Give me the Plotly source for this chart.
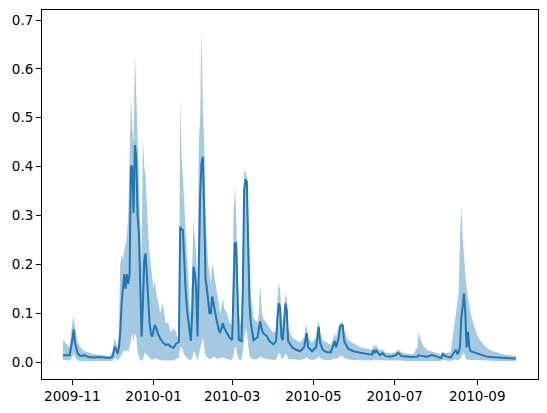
"""Daily series with uncertainty band, matplotlib-like look."""
import plotly.graph_objects as go

BLUE = "#1f77b4"
BAND = "rgba(31,119,180,0.4)"

dates = [
    "2009-10-25", "2009-10-28", "2009-10-30", "2009-11-01", "2009-11-02", "2009-11-03",
    "2009-11-05", "2009-11-07", "2009-11-10", "2009-11-13", "2009-11-17", "2009-11-21",
    "2009-11-25", "2009-11-29", "2009-12-01", "2009-12-02", "2009-12-03", "2009-12-04",
    "2009-12-05", "2009-12-06", "2009-12-07", "2009-12-08", "2009-12-09", "2009-12-10",
    "2009-12-11", "2009-12-12", "2009-12-13", "2009-12-14", "2009-12-15", "2009-12-16",
    "2009-12-17", "2009-12-18", "2009-12-19", "2009-12-20", "2009-12-21", "2009-12-22",
    "2009-12-23", "2009-12-24", "2009-12-25", "2009-12-26", "2009-12-27", "2009-12-28",
    "2009-12-29", "2009-12-30", "2009-12-31", "2010-01-01", "2010-01-02", "2010-01-03",
    "2010-01-04", "2010-01-06", "2010-01-08", "2010-01-10", "2010-01-12", "2010-01-14",
    "2010-01-16", "2010-01-18", "2010-01-19", "2010-01-20", "2010-01-21", "2010-01-22",
    "2010-01-23", "2010-01-24", "2010-01-25", "2010-01-26", "2010-01-27", "2010-01-28",
    "2010-01-29", "2010-01-30", "2010-01-31", "2010-02-01", "2010-02-02", "2010-02-03",
    "2010-02-04", "2010-02-05", "2010-02-06", "2010-02-07", "2010-02-08", "2010-02-09",
    "2010-02-10", "2010-02-11", "2010-02-12", "2010-02-13", "2010-02-14", "2010-02-15",
    "2010-02-16", "2010-02-17", "2010-02-19", "2010-02-20", "2010-02-22", "2010-02-23",
    "2010-02-25", "2010-02-27", "2010-03-01", "2010-03-02", "2010-03-03", "2010-03-04",
    "2010-03-05", "2010-03-06", "2010-03-08", "2010-03-09", "2010-03-10", "2010-03-11",
    "2010-03-12", "2010-03-13", "2010-03-14", "2010-03-15", "2010-03-17", "2010-03-20",
    "2010-03-21", "2010-03-22", "2010-03-23", "2010-03-24", "2010-03-27", "2010-03-29",
    "2010-04-01", "2010-04-03", "2010-04-04", "2010-04-05", "2010-04-06", "2010-04-07",
    "2010-04-08", "2010-04-09", "2010-04-10", "2010-04-11", "2010-04-12", "2010-04-15",
    "2010-04-18", "2010-04-21", "2010-04-24", "2010-04-25", "2010-04-26", "2010-04-27",
    "2010-04-30", "2010-05-03", "2010-05-04", "2010-05-05", "2010-05-06", "2010-05-08",
    "2010-05-11", "2010-05-14", "2010-05-16", "2010-05-17", "2010-05-18", "2010-05-20",
    "2010-05-21", "2010-05-22", "2010-05-23", "2010-05-24", "2010-05-27", "2010-05-31",
    "2010-06-05", "2010-06-10", "2010-06-14", "2010-06-15", "2010-06-16", "2010-06-17",
    "2010-06-18", "2010-06-20", "2010-06-22", "2010-06-24", "2010-06-28", "2010-07-02",
    "2010-07-03", "2010-07-04", "2010-07-06", "2010-07-10", "2010-07-15", "2010-07-18",
    "2010-07-19", "2010-07-20", "2010-07-22", "2010-07-25", "2010-07-29", "2010-08-02",
    "2010-08-05", "2010-08-06", "2010-08-08", "2010-08-12", "2010-08-14", "2010-08-15",
    "2010-08-16", "2010-08-17", "2010-08-18", "2010-08-19", "2010-08-20", "2010-08-21",
    "2010-08-22", "2010-08-23", "2010-08-24", "2010-08-25", "2010-08-26", "2010-08-27",
    "2010-08-29", "2010-09-01", "2010-09-03", "2010-09-07", "2010-09-10", "2010-09-15",
    "2010-09-20", "2010-09-25", "2010-09-30",
]

mean = [
    .014, .014, .014, .045, .067, .040,
    .018, .012, .014, .010, .009, .010,
    .009, .008, .010, .020, .031, .025,
    .017, .030, .060, .120, .147, .180,
    .150, .180, .160, .180, .400, .400,
    .305, .444, .420, .300, .263, .150,
    .052, .120, .209, .222, .170, .120,
    .080, .058, .052, .065, .076, .070,
    .060, .048, .040, .035, .036, .031,
    .029, .038, .040, .041, .277, .270,
    .270, .200, .150, .110, .090, .060,
    .043, .100, .195, .180, .150, .052,
    .200, .345, .407, .420, .310, .170,
    .150, .120, .100, .100, .134, .120,
    .100, .090, .065, .060, .079, .070,
    .060, .050, .045, .150, .243, .243,
    .120, .045, .043, .150, .352, .374,
    .370, .230, .120, .080, .045, .050,
    .070, .083, .070, .060, .053, .043,
    .036, .043, .090, .120, .112, .050,
    .045, .080, .120, .105, .043, .030,
    .025, .022, .030, .045, .059, .030,
    .022, .030, .055, .072, .040, .025,
    .020, .020, .035, .043, .030, .050,
    .072, .075, .075, .043, .027, .022,
    .019, .017, .015, .024, .018, .025,
    .020, .014, .018, .012, .011, .014,
    .018, .018, .012, .011, .010, .011,
    .014, .013, .012, .011, .014, .011,
    .008, .016, .012, .009, .018, .021,
    .025, .016, .020, .031, .090, .113,
    .140, .100, .030, .062, .030, .022,
    .020, .017, .016, .012, .010, .009,
    .008, .008, .007,
]

lower = [
    .004, .004, .003, .010, .020, .010,
    .003, .002, .002, .002, .002, .002,
    .001, .001, .002, .005, .008, .006,
    .004, .006, .010, .015, .020, .025,
    .020, .025, .020, .030, .050, .060,
    .040, .060, .050, .020, .010, .004,
    .002, .006, .015, .020, .015, .010,
    .008, .006, .004, .006, .008, .006,
    .005, .004, .003, .003, .004, .003,
    .003, .006, .008, .008, .030, .030,
    .025, .015, .010, .008, .006, .004,
    .003, .008, .020, .020, .012, .003,
    .015, .030, .040, .050, .030, .012,
    .010, .008, .006, .006, .010, .012,
    .010, .008, .006, .008, .010, .008,
    .006, .005, .004, .015, .030, .030,
    .012, .005, .004, .020, .050, .070,
    .060, .030, .012, .008, .005, .006,
    .008, .012, .010, .008, .006, .005,
    .004, .005, .012, .018, .018, .007,
    .006, .010, .018, .014, .006, .005,
    .005, .004, .006, .008, .010, .006,
    .004, .006, .010, .012, .008, .005,
    .004, .004, .006, .008, .006, .010,
    .012, .012, .012, .008, .005, .004,
    .004, .003, .003, .005, .004, .005,
    .004, .003, .004, .003, .003, .003,
    .004, .004, .003, .002, .002, .002,
    .003, .003, .003, .002, .003, .002,
    .002, .004, .003, .002, .004, .004,
    .005, .003, .004, .006, .010, .015,
    .020, .010, .003, .005, .004, .004,
    .004, .004, .004, .003, .003, .002,
    .002, .002, .002,
]

upper = [
    .045, .035, .030, .080, .093, .070,
    .040, .030, .022, .020, .016, .015,
    .014, .012, .020, .040, .048, .040,
    .030, .060, .200, .220, .210, .230,
    .240, .260, .300, .420, .543, .480,
    .450, .632, .550, .450, .400, .300,
    .200, .461, .400, .380, .300, .260,
    .220, .200, .170, .150, .170, .140,
    .130, .100, .120, .080, .080, .060,
    .070, .060, .050, .060, .543, .420,
    .380, .320, .290, .220, .180, .120,
    .100, .200, .290, .250, .220, .150,
    .450, .500, .686, .520, .450, .300,
    .250, .200, .180, .160, .200, .190,
    .170, .150, .110, .100, .130, .110,
    .100, .080, .075, .300, .359, .300,
    .200, .100, .070, .250, .390, .390,
    .380, .300, .200, .140, .090, .080,
    .100, .160, .110, .090, .080, .070,
    .060, .065, .130, .161, .150, .090,
    .070, .110, .140, .130, .070, .050,
    .045, .040, .050, .070, .075, .050,
    .040, .050, .075, .085, .060, .045,
    .040, .035, .050, .060, .050, .075,
    .080, .082, .080, .065, .045, .038,
    .030, .027, .025, .035, .030, .036,
    .030, .024, .026, .020, .018, .020,
    .025, .025, .020, .017, .016, .030,
    .062, .050, .035, .025, .022, .018,
    .015, .022, .018, .020, .060, .086,
    .100, .120, .140, .250, .320, .260,
    .210, .180, .150, .134, .120, .100,
    .079, .055, .045, .032, .025, .020,
    .016, .014, .013,
]

x_ticks = ["2009-11-01", "2010-01-01", "2010-03-01", "2010-05-01", "2010-07-01", "2010-09-01"]
x_ticktext = ["2009-11", "2010-01", "2010-03", "2010-05", "2010-07", "2010-09"]
y_ticks = [0.0, 0.1, 0.2, 0.3, 0.4, 0.5, 0.6, 0.7]

fig = go.Figure()
fig.add_scatter(x=dates, y=upper, mode="lines", line=dict(width=0, color=BLUE),
                showlegend=False, hoverinfo="skip")
fig.add_scatter(x=dates, y=lower, mode="lines", line=dict(width=0, color=BLUE),
                fill="tonexty", fillcolor=BAND, showlegend=False, hoverinfo="skip")
fig.add_scatter(x=dates, y=mean, mode="lines", line=dict(width=2, color=BLUE),
                showlegend=False)

axis = dict(showline=True, linecolor="black", linewidth=1, mirror=True,
            ticks="outside", ticklen=5, tickwidth=1, tickcolor="black",
            showgrid=False, zeroline=False, automargin=False)

# the page body has an 8px margin, so the figure is sized to sit inside it
fig.update_layout(
    width=531, height=397,
    margin=dict(l=34, r=1, t=2, b=26),
    paper_bgcolor="white", plot_bgcolor="white",
    font=dict(family="DejaVu Sans", size=13.5, color="black"),
    xaxis=dict(axis, type="date", range=["2009-10-09 06:00", "2010-10-16 14:00"],
               tickvals=x_ticks, ticktext=x_ticktext),
    yaxis=dict(axis, range=[-0.0348, 0.7205], tickvals=y_ticks, tickformat=".1f"),
)

fig.write_html("out.html")
